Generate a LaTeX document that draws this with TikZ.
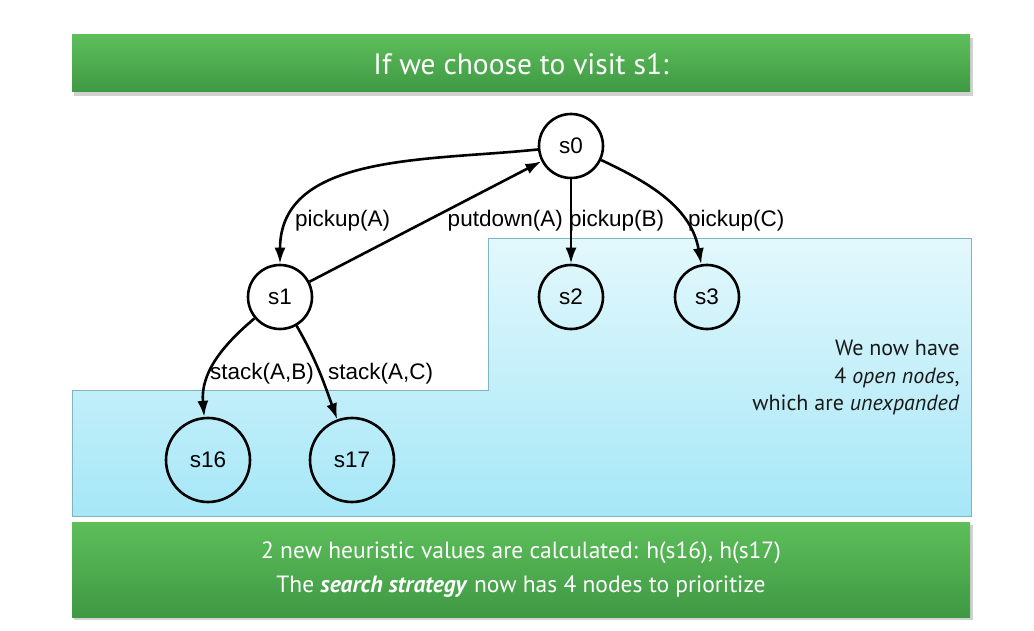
\documentclass[tikz,border=0pt]{standalone}
\usepackage{fontspec}
\setmainfont{PT Sans}
\newfontfamily\graphfont{Liberation Sans}
\usetikzlibrary{arrows.meta}
\definecolor{gtop}{HTML}{5DBE5A}
\definecolor{gbot}{HTML}{3F9944}
\definecolor{btop}{HTML}{E3F8FC}
\definecolor{bbot}{HTML}{A6E7F7}
\definecolor{bline}{HTML}{7FB5C2}
\begin{document}
\begin{tikzpicture}[x=1pt,y=1pt,
  bar/.style={top color=gtop,bottom color=gbot,draw=none},
  barshadow/.style={fill=black,opacity=0.18,draw=none},
  state/.style={circle,draw=black,line width=2.6pt,minimum size=64pt,inner sep=0pt,
    font=\graphfont\fontsize{22.5}{26}\selectfont},
  bigstate/.style={state,minimum size=84pt},
  edge/.style={line width=2.6pt,-{Latex[length=16pt,width=11pt]}},
  elabel/.style={inner sep=0pt,font=\graphfont\fontsize{22.5}{26}\selectfont},
  slidetext/.style={text=white,font=\fontsize{29.5}{34}\selectfont,align=center}
]
\useasboundingbox (0,0) rectangle (1034,-631);
\fill[white] (0,0) rectangle (1034,-631);

% top bar
\fill[barshadow] (74,-38) rectangle (973,-96);
\shade[bar] (72,-35) rectangle (970,-92);
\node[slidetext] (title) at (521,-64) {If we choose to visit s1:};

% open-node region
\shade[top color=btop,bottom color=bbot,draw=bline,line width=0.8pt]
  (488,-238) -- (971,-238) -- (971,-516) -- (72,-516) -- (72,-390) -- (488,-390) -- cycle;

% bottom bar
\fill[barshadow] (74,-525) rectangle (973,-620);
\shade[bar] (72,-522) rectangle (970,-617);
\node[slidetext,font=\fontsize{23.5}{34}\selectfont] (summary) at (521,-570)
  {2 new heuristic values are calculated: h(s16), h(s17)\\
   The \textbf{\textit{search strategy}} now has 4 nodes to prioritize};

% note
\node[anchor=north east,align=right,text=black!90,font=\fontsize{22}{27.5}\selectfont]
  (note) at (963,-337) {We now have\\ 4 \textit{open nodes},\\ which are \textit{unexpanded}};

% states
\node[state] (s0) at (571,-146) {s0};
\node[state] (s1) at (280,-297) {s1};
\node[state] (s2) at (571,-297) {s2};
\node[state] (s3) at (707,-297) {s3};
\node[bigstate] (s16) at (208,-460) {s16};
\node[bigstate] (s17) at (352,-460) {s17};

% edges
\draw[edge] (s0) to[out=186,in=90] (s1);
\draw[edge] (s1) -- (s0);
\draw[edge] (s0) -- (s2);
\draw[edge] (s0) to[out=-25,in=100] (s3);
\draw[edge] (s1) to[out=-140,in=95] (s16);
\draw[edge] (s1) to[out=-60,in=110] (s17);

% edge labels
\node[elabel,anchor=west] (lpa) at (295,-221) {pickup(A)};
\node[elabel,anchor=east] (lda) at (563,-221) {putdown(A)};
\node[elabel,anchor=west] (lpb) at (569,-221) {pickup(B)};
\node[elabel,anchor=west] (lpc) at (688,-221) {pickup(C)};
\node[elabel,anchor=west] (lsab) at (210,-374) {stack(A,B)};
\node[elabel,anchor=west] (lsac) at (328,-374) {stack(A,C)};
\end{tikzpicture}
\end{document}
